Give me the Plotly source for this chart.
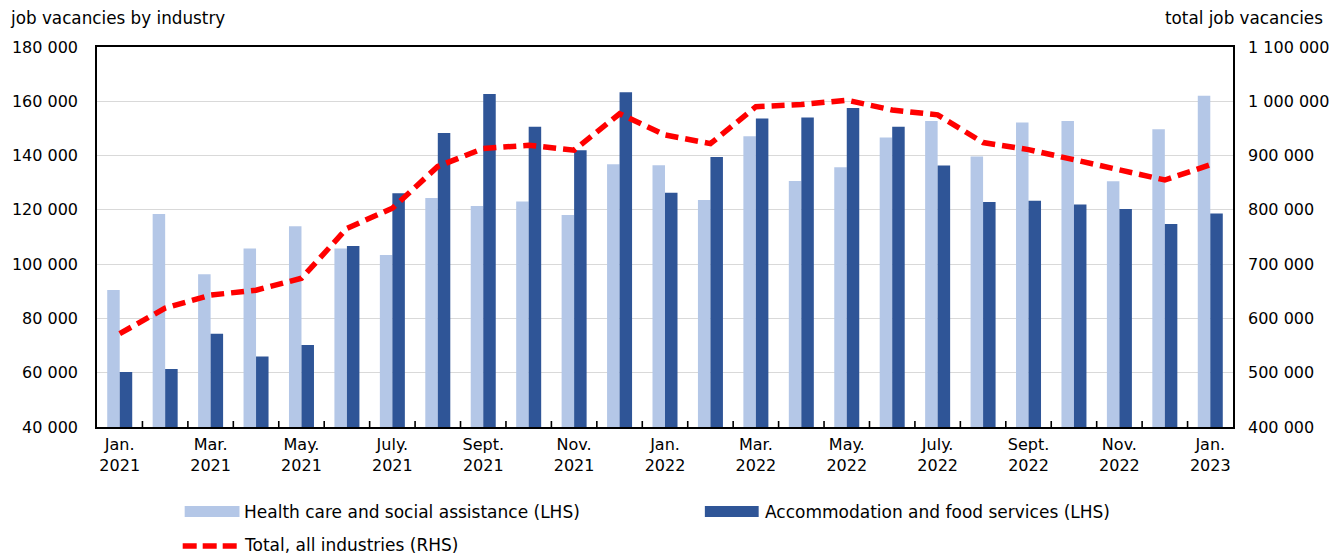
import plotly.graph_objects as go

# ---- data ----
months = ["Jan. 2021", "Feb. 2021", "Mar. 2021", "Apr. 2021", "May. 2021", "June 2021",
          "July. 2021", "Aug. 2021", "Sept. 2021", "Oct. 2021", "Nov. 2021", "Dec. 2021",
          "Jan. 2022", "Feb. 2022", "Mar. 2022", "Apr. 2022", "May. 2022", "June 2022",
          "July. 2022", "Aug. 2022", "Sept. 2022", "Oct. 2022", "Nov. 2022", "Dec. 2022",
          "Jan. 2023"]
health = [90500, 118500, 96300, 105800, 114000, 105800, 103400, 124400, 121400,
          123100, 118100, 136800, 136400, 123600, 147100, 130600, 135700, 146700,
          152700, 139700, 152200, 152700, 130500, 149700, 162000]
accommodation = [60300, 61400, 74400, 66000, 70200, 106700, 126100, 148300, 162700,
                 150600, 142000, 163300, 126300, 139500, 153700, 154000, 157500, 150600,
                 136300, 122900, 123400, 122000, 120300, 114800, 118700]
total = [572000, 619000, 643000, 652000, 674000, 766000, 803000, 880000, 913000,
         919000, 910000, 977000, 938000, 922000, 990000, 994000, 1002000, 984000,
         975000, 924000, 911000, 892000, 873000, 855000, 883000]
tick_labels = ["Jan.<br>2021", "", "Mar.<br>2021", "", "May.<br>2021", "", "July.<br>2021", "",
               "Sept.<br>2021", "", "Nov.<br>2021", "", "Jan.<br>2022", "", "Mar.<br>2022", "",
               "May.<br>2022", "", "July.<br>2022", "", "Sept.<br>2022", "", "Nov.<br>2022", "",
               "Jan.<br>2023"]

LIGHT = "#b4c7e7"
DARK = "#2f5597"
RED = "#ff0000"
FONT = "DejaVu Sans"
TXT = "#000000"

fig = go.Figure()
fig.add_trace(go.Bar(x=months, y=health, name="Health care and social assistance (LHS)",
                     marker=dict(color=LIGHT, line=dict(width=0)), yaxis="y"))
fig.add_trace(go.Bar(x=months, y=accommodation, name="Accommodation and food services (LHS)",
                     marker=dict(color=DARK, line=dict(width=0)), yaxis="y"))
fig.add_trace(go.Scatter(x=months, y=total, name="Total, all industries (RHS)", mode="lines",
                         line=dict(color=RED, width=5.5, dash="13px,7px"), yaxis="y2"))

W, H = 1341, 554
L, R, T, B = 97, 1237, 47, 427


def px(xp):
    return (xp - L) / (R - L)


def py(yp):
    return (B - yp) / (B - T)


shapes = [
    dict(type="rect", xref="paper", yref="paper", x0=px(185), x1=px(240), y0=py(517), y1=py(506),
         fillcolor=LIGHT, line=dict(width=0)),
    dict(type="rect", xref="paper", yref="paper", x0=px(707), x1=px(761), y0=py(517), y1=py(506),
         fillcolor=DARK, line=dict(width=0)),
    dict(type="line", xref="paper", yref="paper", x0=px(183), x1=px(240), y0=py(546), y1=py(546),
         line=dict(color=RED, width=5.5, dash="14px,6px")),
]
# inside tick marks at the category boundaries of the x axis
for m in months[:-1]:
    shapes.append(dict(type="line", xref="x", yref="paper", x0=m, x1=m, x0shift=0.5, x1shift=0.5,
                       y0=0, y1=6 / (B - T), line=dict(color="#000000", width=1.6), layer="above"))

annotations = [
    dict(text="job vacancies by industry", xref="paper", yref="paper", x=px(8), y=py(18),
         xanchor="left", yanchor="middle", showarrow=False, font=dict(size=16.8, color=TXT, family=FONT)),
    dict(text="total job vacancies", xref="paper", yref="paper", x=px(1329), y=py(18),
         xanchor="right", yanchor="middle", showarrow=False, font=dict(size=16.8, color=TXT, family=FONT)),
    dict(text="Health care and social assistance (LHS)", xref="paper", yref="paper", x=px(243), y=py(512),
         xanchor="left", yanchor="middle", showarrow=False, font=dict(size=17, color=TXT, family=FONT)),
    dict(text="Accommodation and food services (LHS)", xref="paper", yref="paper", x=px(765), y=py(512),
         xanchor="left", yanchor="middle", showarrow=False, font=dict(size=17, color=TXT, family=FONT)),
    dict(text="Total, all industries (RHS)", xref="paper", yref="paper", x=px(243), y=py(545),
         xanchor="left", yanchor="middle", showarrow=False, font=dict(size=17, color=TXT, family=FONT)),
]

fig.update_layout(
    width=W, height=H,
    margin=dict(l=L, r=W - R, t=T, b=H - B, pad=0),
    paper_bgcolor="white", plot_bgcolor="white",
    separators=". ",
    barmode="group", bargap=0.45, bargroupgap=0,
    showlegend=False,
    font=dict(family=FONT, size=16, color=TXT),
    xaxis=dict(type="category", categoryorder="array", categoryarray=months,
               range=[-0.5, len(months) - 0.5],
               tickmode="array", tickvals=months, ticktext=tick_labels, tickangle=0,
               ticks="", showgrid=False, zeroline=False,
               showline=True, mirror=True, linecolor="#000000", linewidth=1.5,
               ticklabelstandoff=2,
               tickfont=dict(size=16, color=TXT, family=FONT)),
    yaxis=dict(range=[40000, 180000], tickmode="linear", tick0=40000, dtick=20000,
               tickformat=",d", showgrid=True, gridcolor="#d9d9d9", gridwidth=1.3,
               zeroline=False, showline=True, mirror=True, linecolor="#000000", linewidth=1.5,
               ticks="", ticklabelstandoff=14,
               tickfont=dict(size=16, color=TXT, family=FONT)),
    yaxis2=dict(range=[400000, 1100000], tickmode="linear", tick0=400000, dtick=100000,
                tickformat=",d", overlaying="y", side="right", showgrid=False,
                zeroline=False, showline=False, ticks="", ticklabelstandoff=14,
                tickfont=dict(size=16, color=TXT, family=FONT)),
    shapes=shapes,
    annotations=annotations,
)

fig.write_html("out.html")
